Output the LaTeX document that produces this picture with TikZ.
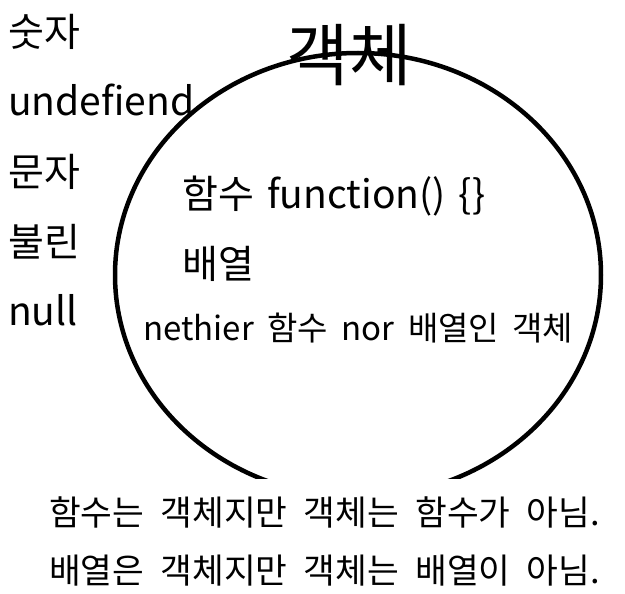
\documentclass[tikz,border=0pt]{standalone}
\usepackage{fontspec}
\setmainfont{Noto Sans CJK KR}[WordSpace=1.5]
\newfontfamily\widespfam{Noto Sans CJK KR}[WordSpace=2.1]
\newcommand{\gapsp}{\hspace{13.5pt}}
\begin{document}
\begin{tikzpicture}[x=1pt,y=-1pt,
  lbl/.style={inner sep=0pt,anchor=base west,font=\fontsize{39}{39}\selectfont},
  inlbl/.style={inner sep=0pt,anchor=base west,font=\fontsize{39}{39}\selectfont},
  small/.style={inner sep=0pt,anchor=base west,font=\fontsize{33}{33}\selectfont},
  bottom/.style={inner sep=0pt,anchor=base east,font=\widespfam\fontsize{34.5}{34.5}\selectfont}]
\useasboundingbox (0,0) rectangle (625,594);
\begin{scope}
  \clip (0,0) rectangle (625,478);
  \draw[line width=4.5pt] (358,275) ellipse [x radius=243pt, y radius=222pt];
\end{scope}
\node[inner sep=0pt,anchor=base,font=\fontsize{68}{68}\selectfont] (title) at (349,81) {객체};
\node[lbl] (num) at (8,47) {숫자};
\node[lbl] (undef) at (8,116) {undefiend};
\node[lbl] (str) at (8,186) {문자};
\node[lbl] (bool) at (8,256) {불린};
\node[lbl] (nul) at (8,325) {null};
\node[inlbl] (func) at (182,208) {함수 function() \{\}};
\node[inlbl] (arr) at (182,278) {배열};
\node[small] (other) at (143,340) {nethier\gapsp 함수\gapsp nor\gapsp 배열인\gapsp 객체};
\node[bottom] (b1) at (600,525) {함수는 객체지만 객체는 함수가 아님.};
\node[bottom] (b2) at (600,583) {배열은 객체지만 객체는 배열이 아님.};
\end{tikzpicture}
\end{document}
